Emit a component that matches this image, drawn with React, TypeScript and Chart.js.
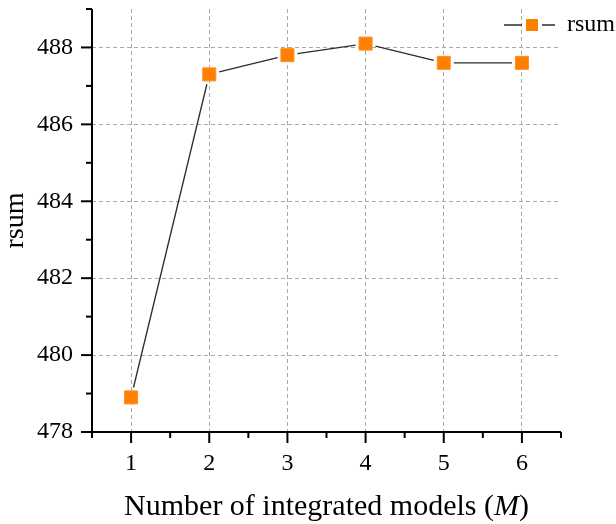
import { useEffect, useRef } from "react";
import { Chart, registerables } from "chart.js";

Chart.register(...registerables);

// Data
const modelCounts = [1, 2, 3, 4, 5, 6];
const rsumValues = [478.9, 487.3, 487.8, 488.1, 487.6, 487.6];
const seriesLabel = "rsum";

// Axis ticks (major ticks get labels, minor ticks are unlabeled)
const xTickValues = [0.5, 1, 1.5, 2, 2.5, 3, 3.5, 4, 4.5, 5, 5.5, 6, 6.5];
const xTickLabels = ["", "1", "", "2", "", "3", "", "4", "", "5", "", "6", ""];
const yTickValues = [478, 479, 480, 481, 482, 483, 484, 485, 486, 487, 488, 489];
const yTickLabels = ["478", "", "480", "", "482", "", "484", "", "486", "", "488", ""];

const xTitleParts = [
  { text: "Number of integrated models (", italic: false },
  { text: "M", italic: true },
  { text: ")", italic: false },
];
const yTitle = "rsum";

const FONT = "'Liberation Serif', 'Times New Roman', serif";
const ORANGE = "#FF8000";
const LINE = "#2b2b2b";
const GRID = "#a8a8a8";

function labelFor(values: number[], labels: string[], v: number) {
  const i = values.indexOf(v);
  return i >= 0 ? labels[i] : "";
}

// Distance from a square marker's center to its edge along a direction
function edgeDist(half: number, ux: number, uy: number) {
  return half / Math.max(Math.abs(ux), Math.abs(uy));
}

// Connecting line that stops short of each marker
const gappedLinePlugin = {
  id: "gappedLine",
  beforeDatasetsDraw(chart: any) {
    const meta = chart.getDatasetMeta(0);
    const pts = meta.data;
    const ctx = chart.ctx;
    const half = 6.5;
    const gap = 3.5;
    ctx.save();
    ctx.strokeStyle = LINE;
    ctx.lineWidth = 1.3;
    for (let i = 0; i < pts.length - 1; i++) {
      const a = pts[i];
      const b = pts[i + 1];
      const dx = b.x - a.x;
      const dy = b.y - a.y;
      const len = Math.hypot(dx, dy);
      const ux = dx / len;
      const uy = dy / len;
      const d = edgeDist(half, ux, uy) + gap;
      ctx.beginPath();
      ctx.moveTo(a.x + ux * d, a.y + uy * d);
      ctx.lineTo(b.x - ux * d, b.y - uy * d);
      ctx.stroke();
    }
    ctx.restore();
  },
};

// Left and bottom axis lines with outward major/minor ticks
const axesPlugin = {
  id: "axesFrame",
  afterDatasetsDraw(chart: any) {
    const { ctx, chartArea, scales } = chart;
    const { left, right, top, bottom } = chartArea;
    ctx.save();
    ctx.strokeStyle = "#000";
    ctx.lineWidth = 2;
    ctx.lineCap = "butt";
    ctx.beginPath();
    ctx.moveTo(left, top);
    ctx.lineTo(left, bottom);
    ctx.moveTo(left - 1, bottom);
    ctx.lineTo(right, bottom);
    ctx.stroke();
    yTickValues.forEach((v) => {
      const y = scales.y.getPixelForValue(v);
      const len = v % 2 === 0 ? 11 : 6;
      ctx.beginPath();
      ctx.moveTo(left, y);
      ctx.lineTo(left - len, y);
      ctx.stroke();
    });
    xTickValues.forEach((v) => {
      const x = scales.x.getPixelForValue(v);
      const len = Number.isInteger(v) ? 11 : 6;
      ctx.beginPath();
      ctx.moveTo(x, bottom);
      ctx.lineTo(x, bottom + len);
      ctx.stroke();
    });
    ctx.restore();
  },
};

// Axis titles and the legend entry
const titlesLegendPlugin = {
  id: "titlesLegend",
  afterDraw(chart: any) {
    const { ctx, chartArea } = chart;
    ctx.save();
    ctx.fillStyle = "#000";

    const xFontUp = `30px ${FONT}`;
    const xFontIt = `italic 30px ${FONT}`;
    let total = 0;
    const widths = xTitleParts.map((p) => {
      ctx.font = p.italic ? xFontIt : xFontUp;
      const w = ctx.measureText(p.text).width;
      total += w;
      return w;
    });
    let x = (chartArea.left + chartArea.right) / 2 - total / 2;
    const ty = 515;
    ctx.textBaseline = "alphabetic";
    ctx.textAlign = "left";
    xTitleParts.forEach((p, i) => {
      ctx.font = p.italic ? xFontIt : xFontUp;
      ctx.fillText(p.text, x, ty);
      x += widths[i];
    });

    ctx.save();
    ctx.translate(23, (chartArea.top + chartArea.bottom) / 2);
    ctx.rotate(-Math.PI / 2);
    ctx.font = `28px ${FONT}`;
    ctx.textAlign = "center";
    ctx.textBaseline = "alphabetic";
    ctx.fillText(yTitle, 0, 0);
    ctx.restore();

    const ly = 25;
    ctx.strokeStyle = LINE;
    ctx.lineWidth = 1.3;
    ctx.beginPath();
    ctx.moveTo(504, ly);
    ctx.lineTo(522, ly);
    ctx.moveTo(542, ly);
    ctx.lineTo(555, ly);
    ctx.stroke();
    ctx.fillStyle = ORANGE;
    ctx.fillRect(526, ly - 6, 12, 12);
    ctx.fillStyle = "#000";
    ctx.font = `24px ${FONT}`;
    ctx.textAlign = "left";
    ctx.textBaseline = "middle";
    ctx.fillText(seriesLabel, 567, ly);
    ctx.restore();
  },
};

export default function App() {
  const canvasRef = useRef<HTMLCanvasElement | null>(null);

  useEffect(() => {
    if (!canvasRef.current) return;
    const chart = new Chart(canvasRef.current, {
      type: "line",
      data: {
        datasets: [
          {
            label: seriesLabel,
            data: modelCounts.map((m, i) => ({ x: m, y: rsumValues[i] })),
            showLine: false,
            pointStyle: "rect",
            pointRadius: 9.2,
            pointBackgroundColor: ORANGE,
            pointBorderColor: "#FF8E1F",
            pointBorderWidth: 1,
          },
        ],
      },
      options: {
        animation: false,
        responsive: true,
        maintainAspectRatio: false,
        layout: { autoPadding: false, padding: { left: 0, top: 9, right: 55, bottom: 0 } },
        plugins: {
          legend: { display: false },
          tooltip: { enabled: false },
        },
        scales: {
          x: {
            type: "linear",
            min: 0.5,
            max: 6.5,
            afterBuildTicks: (scale: any) => {
              scale.ticks = xTickValues.map((v) => ({ value: v }));
            },
            afterFit: (scale: any) => {
              scale.height = 92;
              scale.paddingLeft = 0;
              scale.paddingRight = 0;
            },
            grid: {
              drawTicks: false,
              color: (c: any) => (Number.isInteger(c.tick?.value) ? GRID : "transparent"),
              lineWidth: 1,
            },
            border: { display: false, dash: [4, 3] },
            ticks: {
              autoSkip: false,
              maxRotation: 0,
              padding: 17,
              color: "#000",
              font: { family: FONT, size: 24 },
              callback: (v: any) => labelFor(xTickValues, xTickLabels, Number(v)),
            },
          },
          y: {
            min: 478,
            max: 489,
            afterBuildTicks: (scale: any) => {
              scale.ticks = yTickValues.map((v) => ({ value: v }));
            },
            afterFit: (scale: any) => {
              scale.width = 92;
              scale.paddingTop = 0;
              scale.paddingBottom = 0;
            },
            grid: {
              drawTicks: false,
              color: (c: any) => {
                const v = c.tick?.value;
                return v !== undefined && v % 2 === 0 && v !== 478 ? GRID : "transparent";
              },
              lineWidth: 1,
            },
            border: { display: false, dash: [4, 3] },
            ticks: {
              autoSkip: false,
              padding: 19,
              color: "#000",
              font: { family: FONT, size: 24 },
              callback: (v: any) => labelFor(yTickValues, yTickLabels, Number(v)),
            },
          },
        },
      },
      plugins: [gappedLinePlugin, axesPlugin, titlesLegendPlugin],
    } as any);
    return () => chart.destroy();
  }, []);

  return (
    <div style={{ position: "absolute", left: 0, top: 0, width: 616, height: 524 }}>
      <canvas ref={canvasRef} />
    </div>
  );
}
